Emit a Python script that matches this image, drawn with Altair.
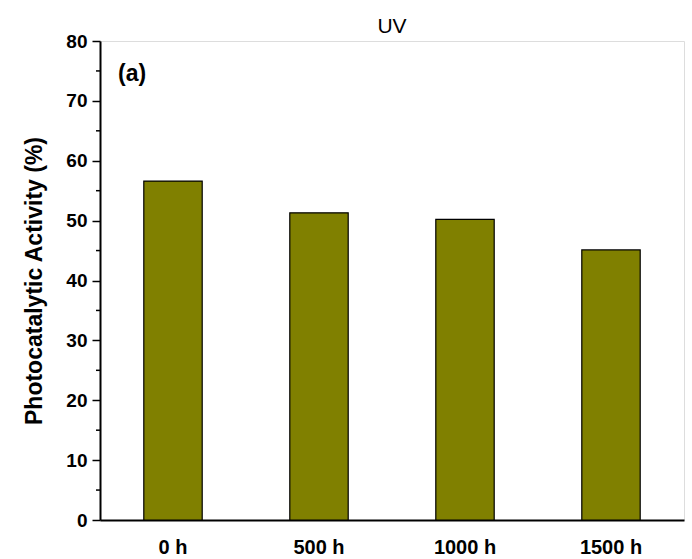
import altair as alt
import pandas as pd

categories = ["0 h", "500 h", "1000 h", "1500 h"]
activity = [56.6, 51.3, 50.2, 45.1]
minor_ticks = [5, 15, 25, 35, 45, 55, 65, 75]
major_ticks = [0, 10, 20, 30, 40, 50, 60, 70, 80]

df = pd.DataFrame({"cat": categories, "val": activity})
minor_df = pd.DataFrame({"v": minor_ticks})

FONT = "Liberation Sans"

y_scale = alt.Scale(domain=[0, 80], nice=False)

bars = alt.Chart(df).mark_bar(color="#808000", stroke="black", strokeWidth=1.2).encode(
    x=alt.X("cat:N", sort=categories, title=None,
            scale=alt.Scale(paddingInner=0.6, paddingOuter=0.3),
            axis=alt.Axis(labelAngle=0, labelFont=FONT, labelFontSize=20,
                          labelFontWeight="bold", labelColor="black",
                          ticks=False, domainColor="black", domainWidth=2,
                          labelPadding=17)),
    y=alt.Y("val:Q", scale=y_scale, title="Photocatalytic Activity (%)",
            axis=alt.Axis(values=major_ticks, tickSize=8, tickWidth=1.5,
                          tickColor="black", domainColor="black", domainWidth=2,
                          grid=False, labelFont=FONT, labelFontSize=19,
                          labelFontWeight="bold", labelColor="black",
                          labelPadding=5, titleFont=FONT, titleFontSize=23,
                          titleFontWeight="bold", titleColor="black",
                          titlePadding=19)),
)

minor = alt.Chart(minor_df).mark_rule(color="black", strokeWidth=1.5).encode(
    x=alt.value(-4), x2=alt.value(0),
    y=alt.Y("v:Q", scale=y_scale),
)

label = alt.Chart(pd.DataFrame({"t": ["(a)"]})).mark_text(
    font=FONT, fontSize=23, fontWeight="bold", color="black",
    align="left", baseline="middle"
).encode(x=alt.value(18), y=alt.value(33), text="t:N")

chart = alt.layer(bars, minor, label).properties(
    width=584, height=479,
    title=alt.TitleParams("UV", font=FONT, fontSize=21, fontWeight="normal",
                          color="black", anchor="middle", offset=-5),
    padding={"left": 100, "top": 41, "right": 8, "bottom": 39},
    autosize=alt.AutoSizeParams(type="none"),
).configure_view(stroke="black", strokeWidth=2).configure(background="white")

chart.save("out.html", embed_options={"renderer": "svg", "actions": False})
